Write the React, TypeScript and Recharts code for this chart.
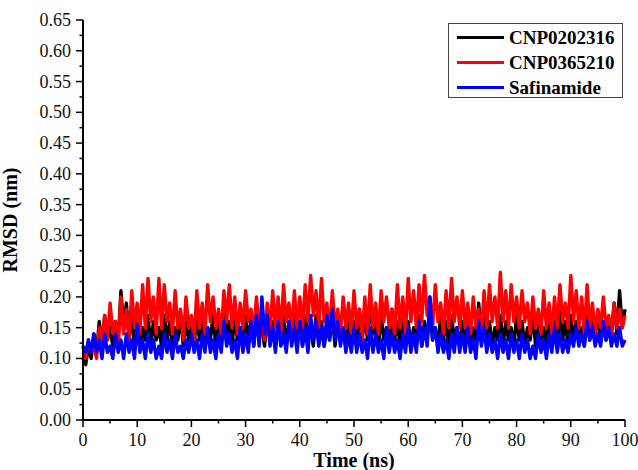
import { LineChart, Line, XAxis, YAxis } from "recharts";

// RMSD traces, sampled every 0.5 ns (0 → 100 ns), values in nm
const CNP0202316 = [
  0.10, 0.09, 0.12, 0.10, 0.14, 0.11, 0.16, 0.12, 0.17, 0.13, 0.15, 0.12, 0.16, 0.13, 0.21, 0.15, 0.19, 0.13, 0.17, 0.12,
  0.16, 0.12, 0.15, 0.13, 0.17, 0.12, 0.16, 0.13, 0.15, 0.12, 0.17, 0.13, 0.16, 0.12, 0.15, 0.13, 0.17, 0.12, 0.16, 0.13,
  0.15, 0.12, 0.17, 0.13, 0.16, 0.12, 0.15, 0.13, 0.17, 0.12, 0.16, 0.13, 0.18, 0.13, 0.16, 0.12, 0.17, 0.13, 0.15, 0.12,
  0.17, 0.13, 0.16, 0.12, 0.18, 0.14, 0.15, 0.12, 0.17, 0.13, 0.16, 0.12, 0.15, 0.13, 0.17, 0.12, 0.16, 0.13, 0.18, 0.13,
  0.16, 0.12, 0.17, 0.13, 0.15, 0.12, 0.17, 0.13, 0.16, 0.12, 0.15, 0.13, 0.17, 0.12, 0.16, 0.13, 0.15, 0.12, 0.17, 0.13,
  0.16, 0.12, 0.18, 0.13, 0.17, 0.13, 0.20, 0.14, 0.16, 0.12, 0.17, 0.13, 0.15, 0.12, 0.18, 0.13, 0.16, 0.12, 0.17, 0.13,
  0.16, 0.12, 0.15, 0.13, 0.17, 0.12, 0.16, 0.13, 0.18, 0.13, 0.15, 0.12, 0.17, 0.13, 0.16, 0.12, 0.17, 0.13, 0.15, 0.12,
  0.16, 0.13, 0.17, 0.12, 0.15, 0.13, 0.19, 0.14, 0.17, 0.13, 0.16, 0.12, 0.15, 0.13, 0.17, 0.12, 0.16, 0.13, 0.15, 0.12,
  0.17, 0.13, 0.16, 0.12, 0.15, 0.13, 0.17, 0.12, 0.16, 0.13, 0.15, 0.12, 0.17, 0.13, 0.16, 0.12, 0.18, 0.13, 0.16, 0.12,
  0.17, 0.13, 0.16, 0.13, 0.15, 0.12, 0.17, 0.13, 0.16, 0.14, 0.17, 0.13, 0.15, 0.13, 0.16, 0.14, 0.19, 0.14, 0.21, 0.15,
  0.18,
];

const CNP0365210 = [
  0.12, 0.10, 0.13, 0.11, 0.12, 0.10, 0.15, 0.12, 0.17, 0.13, 0.19, 0.14, 0.16, 0.12, 0.20, 0.14, 0.18, 0.13, 0.21, 0.15,
  0.19, 0.14, 0.22, 0.15, 0.23, 0.16, 0.20, 0.14, 0.23, 0.15, 0.22, 0.16, 0.19, 0.14, 0.21, 0.15, 0.18, 0.13, 0.20, 0.15,
  0.17, 0.13, 0.21, 0.15, 0.19, 0.14, 0.22, 0.16, 0.20, 0.15, 0.18, 0.14, 0.21, 0.16, 0.22, 0.15, 0.20, 0.14, 0.19, 0.15,
  0.21, 0.16, 0.18, 0.14, 0.20, 0.15, 0.17, 0.13, 0.19, 0.14, 0.21, 0.15, 0.20, 0.14, 0.22, 0.16, 0.19, 0.14, 0.21, 0.15,
  0.20, 0.15, 0.22, 0.16, 0.235, 0.17, 0.21, 0.15, 0.23, 0.16, 0.19, 0.14, 0.21, 0.15, 0.18, 0.14, 0.20, 0.15, 0.19, 0.14,
  0.21, 0.15, 0.18, 0.13, 0.20, 0.14, 0.22, 0.15, 0.19, 0.14, 0.21, 0.16, 0.20, 0.15, 0.18, 0.14, 0.22, 0.15, 0.20, 0.14,
  0.23, 0.16, 0.21, 0.15, 0.22, 0.16, 0.235, 0.17, 0.20, 0.15, 0.22, 0.16, 0.19, 0.14, 0.21, 0.15, 0.23, 0.16, 0.20, 0.15,
  0.21, 0.15, 0.19, 0.14, 0.20, 0.15, 0.18, 0.14, 0.21, 0.15, 0.22, 0.16, 0.20, 0.15, 0.24, 0.16, 0.21, 0.15, 0.22, 0.16,
  0.20, 0.15, 0.21, 0.16, 0.19, 0.14, 0.20, 0.15, 0.18, 0.14, 0.21, 0.15, 0.19, 0.14, 0.20, 0.15, 0.22, 0.16, 0.19, 0.15,
  0.235, 0.16, 0.21, 0.15, 0.20, 0.14, 0.22, 0.15, 0.19, 0.14, 0.18, 0.15, 0.20, 0.15, 0.17, 0.14, 0.19, 0.15, 0.18, 0.15,
  0.17,
];

const SAFINAMIDE = [
  0.12, 0.11, 0.13, 0.11, 0.14, 0.11, 0.13, 0.10, 0.14, 0.11, 0.12, 0.10, 0.14, 0.11, 0.13, 0.10, 0.14, 0.11, 0.13, 0.10,
  0.155, 0.11, 0.13, 0.10, 0.14, 0.11, 0.13, 0.10, 0.12, 0.10, 0.14, 0.11, 0.13, 0.10, 0.14, 0.11, 0.12, 0.10, 0.13, 0.11,
  0.14, 0.11, 0.13, 0.10, 0.14, 0.11, 0.15, 0.11, 0.13, 0.10, 0.14, 0.11, 0.16, 0.12, 0.14, 0.11, 0.13, 0.10, 0.15, 0.11,
  0.14, 0.11, 0.16, 0.12, 0.17, 0.12, 0.20, 0.14, 0.17, 0.12, 0.15, 0.11, 0.16, 0.12, 0.14, 0.11, 0.16, 0.12, 0.15, 0.11,
  0.16, 0.12, 0.15, 0.11, 0.17, 0.13, 0.16, 0.12, 0.15, 0.12, 0.17, 0.13, 0.18, 0.13, 0.16, 0.12, 0.15, 0.11, 0.14, 0.11,
  0.15, 0.11, 0.14, 0.11, 0.13, 0.10, 0.15, 0.11, 0.14, 0.11, 0.13, 0.10, 0.15, 0.11, 0.14, 0.11, 0.13, 0.10, 0.14, 0.11,
  0.15, 0.11, 0.14, 0.11, 0.16, 0.12, 0.15, 0.12, 0.20, 0.13, 0.15, 0.11, 0.14, 0.11, 0.13, 0.10, 0.14, 0.11, 0.15, 0.11,
  0.14, 0.11, 0.15, 0.11, 0.13, 0.10, 0.16, 0.12, 0.15, 0.11, 0.14, 0.11, 0.13, 0.10, 0.14, 0.11, 0.13, 0.10, 0.14, 0.11,
  0.13, 0.10, 0.14, 0.11, 0.13, 0.10, 0.12, 0.10, 0.14, 0.11, 0.13, 0.10, 0.14, 0.11, 0.15, 0.11, 0.14, 0.11, 0.13, 0.11,
  0.14, 0.12, 0.15, 0.12, 0.14, 0.12, 0.16, 0.13, 0.15, 0.12, 0.14, 0.12, 0.16, 0.13, 0.15, 0.12, 0.14, 0.12, 0.15, 0.12,
  0.13,
];

const X_TICKS = [0, 5, 10, 15, 20, 25, 30, 35, 40, 45, 50, 55, 60, 65, 70, 75, 80, 85, 90, 95, 100];
const Y_TICKS = [
  0, 0.025, 0.05, 0.075, 0.1, 0.125, 0.15, 0.175, 0.2, 0.225, 0.25, 0.275, 0.3, 0.325,
  0.35, 0.375, 0.4, 0.425, 0.45, 0.475, 0.5, 0.525, 0.55, 0.575, 0.6, 0.625, 0.65,
];

const SERIES = [
  { key: "cnp0202316", name: "CNP0202316", color: "#000000", values: CNP0202316 },
  { key: "cnp0365210", name: "CNP0365210", color: "#ff0000", values: CNP0365210 },
  { key: "safinamide", name: "Safinamide", color: "#0000ff", values: SAFINAMIDE },
];

const data = CNP0202316.map((_, i) => {
  const row: Record<string, number> = { t: i * 0.5 };
  SERIES.forEach((s) => (row[s.key] = s.values[i]));
  return row;
});

const FONT = '"Liberation Serif", "Times New Roman", serif';

function YTick(props: any) {
  const { x, y, payload } = props;
  const v = payload.value as number;
  const major = Math.round(v * 1000) % 50 === 0;
  return (
    <g>
      <line x1={x - (major ? 7 : 3.5)} x2={x} y1={y} y2={y} stroke="#000" strokeWidth={1.5} />
      {major && (
        <text x={x - 12} y={y + 6} textAnchor="end" fontSize={18} fontFamily={FONT} fill="#111">
          {v.toFixed(2)}
        </text>
      )}
    </g>
  );
}

function XTick(props: any) {
  const { x, y, payload } = props;
  const v = payload.value as number;
  const major = v % 10 === 0;
  return (
    <g>
      <line x1={x} x2={x} y1={y} y2={y + (major ? 7 : 3.5)} stroke="#000" strokeWidth={1.5} />
      {major && (
        <text x={x} y={y + 26} textAnchor="middle" fontSize={18} fontFamily={FONT} fill="#111">
          {v}
        </text>
      )}
    </g>
  );
}

export default function App() {
  return (
    <div style={{ position: "absolute", left: 0, top: 0, width: 638, height: 470, background: "#fff" }}>
      <LineChart width={638} height={470} data={data} margin={{ top: 20, right: 13, bottom: 0, left: 0 }}>
        <XAxis
          xAxisId="main"
          dataKey="t"
          type="number"
          domain={[0, 100]}
          ticks={X_TICKS}
          interval={0}
          height={50}
          tickSize={0}
          tickMargin={0}
          tickLine={false}
          axisLine={{ stroke: "#000", strokeWidth: 2 }}
          tick={<XTick />}
          label={{
            value: "Time (ns)",
            position: "insideBottom",
            offset: 3,
            style: { fontSize: 20, fontWeight: "bold", fontFamily: FONT, fill: "#000" },
          }}
        />
        <XAxis
          xAxisId="top"
          orientation="top"
          dataKey="t"
          type="number"
          domain={[0, 100]}
          height={0}
          tick={false}
          tickLine={false}
          axisLine={{ stroke: "#222", strokeWidth: 2 }}
        />
        <YAxis
          yAxisId="main"
          type="number"
          domain={[0, 0.65]}
          ticks={Y_TICKS}
          interval={0}
          width={83}
          tickSize={0}
          tickMargin={0}
          tickLine={false}
          axisLine={{ stroke: "#000", strokeWidth: 2 }}
          tick={<YTick />}
          label={{
            value: "RMSD (nm)",
            angle: -90,
            position: "insideLeft",
            offset: 10,
            style: { textAnchor: "middle", fontSize: 20, fontWeight: "bold", fontFamily: FONT, fill: "#000" },
          }}
        />
        <YAxis
          yAxisId="right"
          orientation="right"
          type="number"
          domain={[0, 0.65]}
          width={0}
          tick={false}
          tickLine={false}
          axisLine={{ stroke: "#000", strokeWidth: 2 }}
        />
        {SERIES.map((s) => (
          <Line
            key={s.key}
            xAxisId="main"
            yAxisId="main"
            type="linear"
            dataKey={s.key}
            name={s.name}
            stroke={s.color}
            strokeWidth={3.4}
            strokeLinejoin="round"
            dot={false}
            isAnimationActive={false}
          />
        ))}
      </LineChart>

      {/* legend box, top right inside the plot */}
      <div
        style={{
          position: "absolute",
          left: 448,
          top: 23,
          width: 173,
          height: 73,
          border: "1px solid #444",
          background: "#fff",
          fontFamily: FONT,
        }}
      >
        {SERIES.map((s, i) => (
          <div
            key={s.key}
            style={{
              position: "absolute",
              left: 8,
              top: 0.5 + i * 25,
              height: 25,
              display: "flex",
              alignItems: "center",
            }}
          >
            <div style={{ width: 47, height: 3, background: s.color }} />
            <span style={{ marginLeft: 5, fontSize: 19, fontWeight: "bold", color: "#000", lineHeight: "25px" }}>
              {s.name}
            </span>
          </div>
        ))}
      </div>
    </div>
  );
}
